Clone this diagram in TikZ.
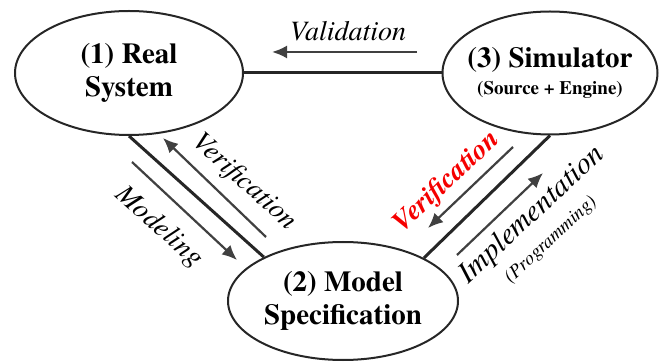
\documentclass[tikz,border=0pt]{standalone}
\usepackage{fontspec}
\setmainfont{texgyretermes}[Extension=.otf, UprightFont=*-regular, BoldFont=*-bold,
  ItalicFont=*-italic, BoldItalicFont=*-bolditalic]
\usetikzlibrary{shapes.geometric,arrows.meta}

\definecolor{lineclr}{RGB}{38,38,38}
\definecolor{arrclr}{RGB}{64,64,64}
\definecolor{verired}{RGB}{245,0,0}

\begin{document}
\begin{tikzpicture}[x=1pt, y=-1pt,
    state/.style={ellipse, draw=lineclr, line width=2pt, inner sep=0pt, align=center,
      font=\fontsize{29}{33}\selectfont\bfseries},
    link/.style={draw=lineclr, line width=3pt},
    flow/.style={draw=arrclr, line width=2.2pt, -{Latex[length=15pt,width=13pt]}},
    lbl/.style={font=\fontsize{28}{32}\selectfont\itshape, inner sep=0pt}]
    \useasboundingbox (0,0) rectangle (661,363);

    % States
    \node[state, minimum width=228pt, minimum height=124pt] (real) at (129,73) {(1) Real\\System};
    \node[state, minimum width=230pt, minimum height=118pt] (model) at (343,301) {(2) Model\\Specification};
    \node[state, minimum width=215pt, minimum height=123pt, inner xsep=-8pt] (sim) at (550,73)
      {(3) Simulator\\[-6pt]{\fontsize{19}{22}\selectfont(Source + Engine)}};

    % Links between states
    \draw[link] (real) -- (sim);
    \draw[link] (real.south) -- (model.151);
    \draw[link] (model.28) -- (sim.south);

    % Arrow ends
    \coordinate (valA) at (417,52);
    \coordinate (valB) at (272,52);
    \coordinate (modA) at (132,162);
    \coordinate (modB) at (237,260);
    \coordinate (verA) at (266,237);
    \coordinate (verB) at (163,138);
    \coordinate (redA) at (513,147);
    \coordinate (redB) at (428,228);
    \coordinate (impA) at (457,255);
    \coordinate (impB) at (543,173);

    \draw[flow] (valA) -- (valB);
    \draw[flow] (modA) -- (modB);
    \draw[flow] (verA) -- (verB);
    \draw[flow] (redA) -- (redB);
    \draw[flow] (impA) -- (impB);

    % Arrow labels
    \node[lbl] (valtxt) at (348,31) {Validation};
    \node[lbl, rotate=-42] (modtxt) at (159,227) {Modeling};
    \node[lbl, rotate=-42] (vertxt) at (244,182) {Verification};
    \node[lbl, rotate=43, text=verired, font=\fontsize{28}{32}\selectfont\bfseries\itshape] (redtxt) at (447,182) {Verification};
    \node[lbl, rotate=43, font=\fontsize{30}{34}\selectfont\itshape] (imptxt) at (532,215) {Implementation};
    \node[lbl, rotate=43, font=\fontsize{19}{22}\selectfont\itshape] (progtxt) at (551,240) {(Programming)};
\end{tikzpicture}
\end{document}
